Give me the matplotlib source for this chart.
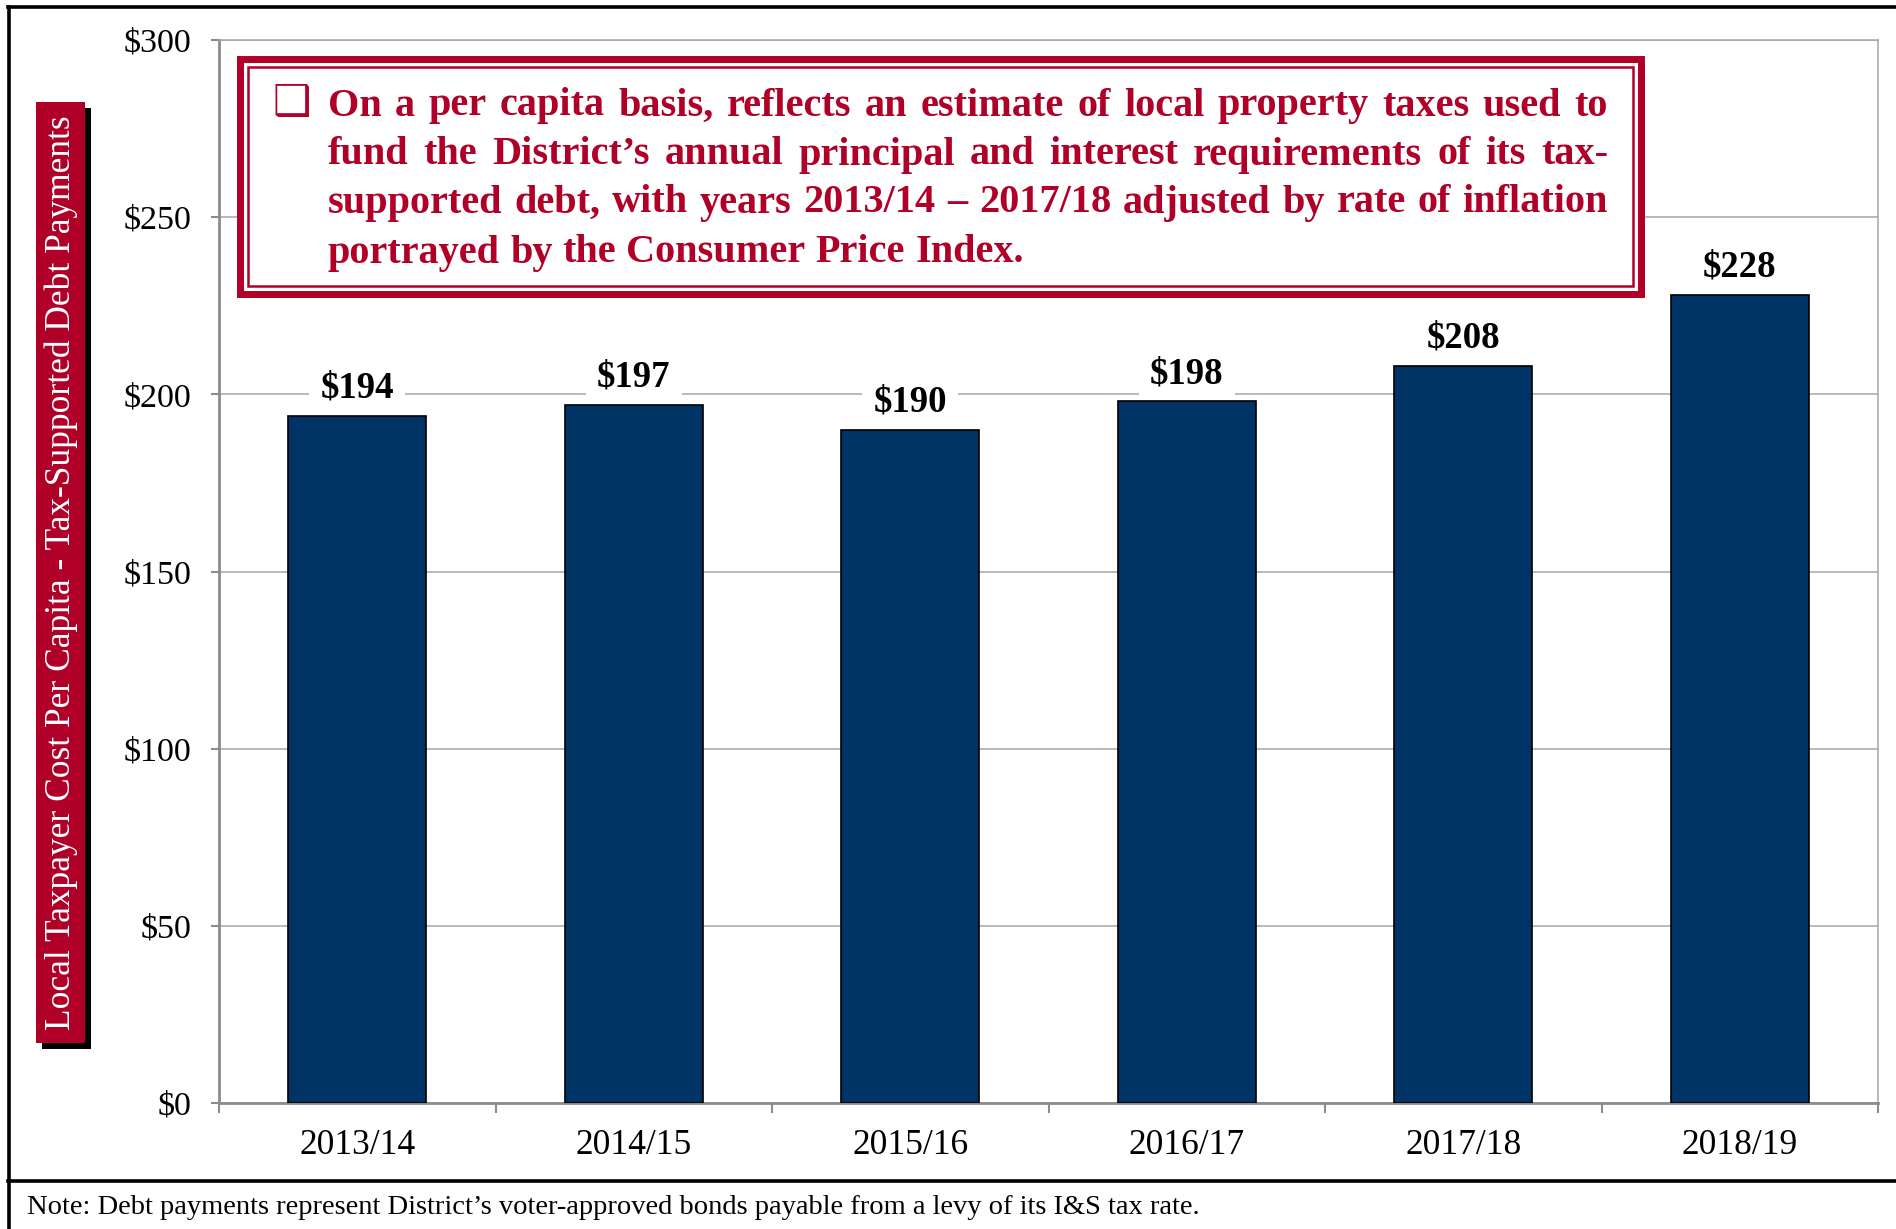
import matplotlib
matplotlib.use("Agg")
import matplotlib.pyplot as plt
from matplotlib.patches import Rectangle
from matplotlib.lines import Line2D

# data
years = ["2013/14", "2014/15", "2015/16", "2016/17", "2017/18", "2018/19"]
cost = [194, 197, 190, 198, 208, 228]
yticks = [0, 50, 100, 150, 200, 250, 300]

ylabel = "Local Taxpayer Cost Per Capita - Tax-Supported Debt Payments"
box_lines = [
    "On a per capita basis, reflects an estimate of local property taxes used to",
    "fund the District\u2019s annual principal and interest requirements of its tax-",
    "supported debt, with years 2013/14 \u2013 2017/18 adjusted by rate of inflation",
    "portrayed by the Consumer Price Index.",
]
note = "Note: Debt payments represent District\u2019s voter-approved bonds payable from a levy of its I&S tax rate."

NAVY = "#003366"
CRIMSON = "#B00028"
GRID = "#A6A6A6"
SPINE = "#8C8C8C"
SERIF = "Liberation Serif"

W, H = 1896, 1229
fig = plt.figure(figsize=(W / 100, H / 100), dpi=100)

def fx(px):
    return px / W

def fy(py):
    return 1 - py / H

ax = fig.add_axes([fx(219), fy(1103), fx(1878) - fx(219), fy(40) - fy(1103)])
x = list(range(len(years)))
ax.bar(x, cost, width=0.5, color=NAVY, edgecolor="black", linewidth=1.2, zorder=3)
ax.set_xlim(-0.5, len(years) - 0.5)
ax.set_ylim(0, 300)
ax.set_yticks(yticks)
ax.set_yticklabels(["$%d" % v for v in yticks], fontsize=24.5, family=SERIF)
ax.yaxis.grid(True, color=GRID, linewidth=1.1, zorder=0)
ax.set_axisbelow(True)

ax.set_xticks(x)
ax.set_xticklabels(years, fontsize=25.5, family=SERIF)
ax.tick_params(axis="x", which="major", length=0, pad=19)
ax.set_xticks([i - 0.5 for i in range(len(years) + 1)], minor=True)
ax.tick_params(axis="x", which="minor", length=7, width=1.5, color=SPINE)
ax.tick_params(axis="y", length=6, width=1.5, color=SPINE, pad=14)

for s in ["left", "bottom"]:
    ax.spines[s].set_color(SPINE)
    ax.spines[s].set_linewidth(2)
for s in ["right", "top"]:
    ax.spines[s].set_color(GRID)
    ax.spines[s].set_linewidth(1.1)

# value labels sit below the bars in z-order so the white backing only hides grid lines
for xi, v in zip(x, cost):
    ax.annotate("$%d" % v, (xi, v), xytext=(0, 20), textcoords="offset points",
                ha="center", va="center", fontsize=26.5, fontweight="bold", family=SERIF,
                bbox=dict(boxstyle="square,pad=0.3", fc="white", ec="none"), zorder=2.5)

# annotation box with double crimson border
fig.patches.append(Rectangle((fx(240), fy(294)), fx(1641) - fx(240), fy(59) - fy(294),
                             transform=fig.transFigure, fc="white", ec=CRIMSON, lw=5, zorder=5))
fig.patches.append(Rectangle((fx(248), fy(286)), fx(1633) - fx(248), fy(67) - fy(286),
                             transform=fig.transFigure, fc="none", ec=CRIMSON, lw=1.8, zorder=6))

fig.text(fx(292), fy(103), "\u2751", fontsize=31, color=CRIMSON, family="DejaVu Sans",
         ha="center", va="center", zorder=7)

left_px, right_px = 328, 1608
line_y = [106, 155, 203, 253]
box_fs = 29
renderer = fig.canvas.get_renderer()
for i, line in enumerate(box_lines):
    words = line.split(" ")
    objs = [fig.text(0, fy(line_y[i]), w, fontsize=box_fs, fontweight="bold", color=CRIMSON,
                     family=SERIF, ha="left", va="center", zorder=7) for w in words]
    widths = [o.get_window_extent(renderer).width for o in objs]
    if i < len(box_lines) - 1:
        gap = (right_px - left_px - sum(widths)) / (len(words) - 1)
    else:
        space = fig.text(0, 0, "a b", fontsize=box_fs, fontweight="bold", family=SERIF)
        ab = fig.text(0, 0, "ab", fontsize=box_fs, fontweight="bold", family=SERIF)
        gap = space.get_window_extent(renderer).width - ab.get_window_extent(renderer).width
        space.remove()
        ab.remove()
    pos = left_px
    for o, w in zip(objs, widths):
        o.set_x(fx(pos))
        pos += w + gap

# y-axis label box with shadow
fig.patches.append(Rectangle((fx(42), fy(1049)), fx(91) - fx(42), fy(108) - fy(1049),
                             transform=fig.transFigure, fc="black", ec="none", zorder=2))
fig.patches.append(Rectangle((fx(36), fy(1043)), fx(85) - fx(36), fy(102) - fy(1043),
                             transform=fig.transFigure, fc=CRIMSON, ec="none", zorder=3))
fig.text(fx(61), fy(573), ylabel, rotation=90, fontsize=25.5, color="white", family=SERIF,
         ha="center", va="center", zorder=4)

# outer frame
for xs, ys in [([8, W], [7, 7]), ([9, 9], [7, H]), ([8, W], [1181, 1181])]:
    fig.lines.append(Line2D([fx(v) for v in xs], [fy(v) for v in ys], transform=fig.transFigure,
                            color="black", lw=2.6))

fig.text(fx(27), fy(1207), note, fontsize=20.5, family=SERIF, ha="left", va="center")

fig.savefig("out.png", dpi=100)
